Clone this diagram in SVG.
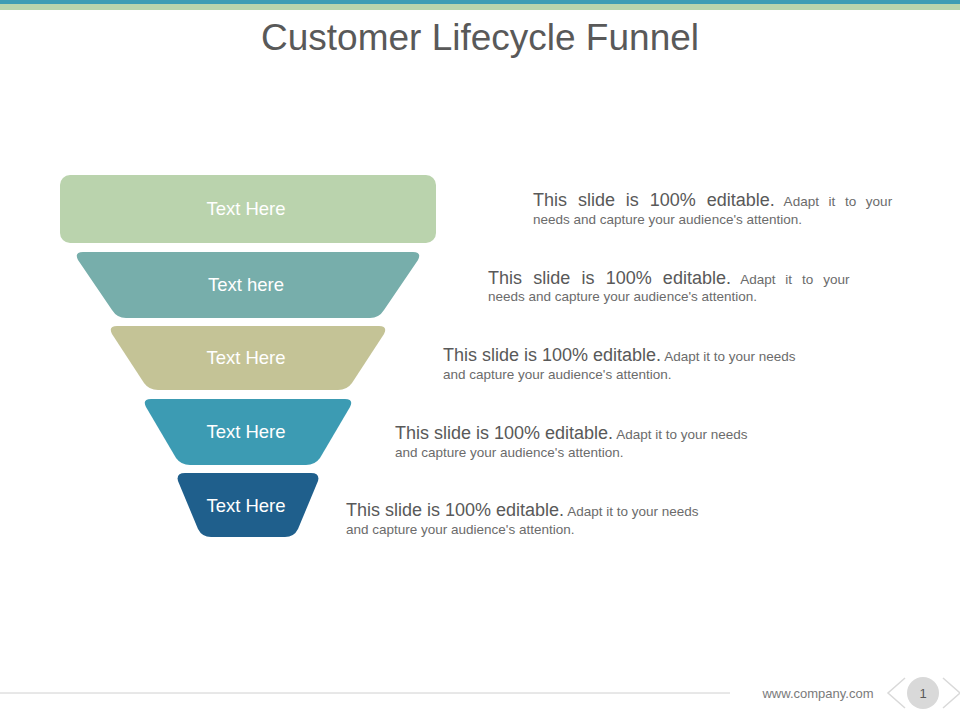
<svg xmlns="http://www.w3.org/2000/svg" width="960" height="720" viewBox="0 0 960 720">
<style>
text{font-family:"Liberation Sans",Arial,sans-serif}
.lbl{fill:#fff;font-size:18.5px;text-anchor:middle}
.big{font-size:18px;fill:#595959}
.sm{font-size:13.5px;fill:#6b6b6b}
</style>
<rect width="960" height="720" fill="#fff"/>
<rect x="0" y="0" width="960" height="4" fill="#3e9cb4"/>
<rect x="0" y="4" width="960" height="6" fill="#b9d4ad"/>
<text x="480" y="50" text-anchor="middle" font-size="37" fill="#595959">Customer Lifecycle Funnel</text>
<g id="n1"><rect x="60" y="175" width="376" height="68" rx="10" fill="#bad3ad"/><text class="lbl" x="246" y="215">Text Here</text></g>
<g id="n2"><path d="M83 252 L413 252 Q422 252 418 260 L384 310 Q379 318 370 318 L126 318 Q117 318 112 310 L78 260 Q74 252 83 252 Z" fill="#77aeab"/><text class="lbl" x="246" y="291">Text here</text></g>
<g id="n3"><path d="M117 326 L379 326 Q388 326 384 334 L352 383 Q347 390 338 390 L158 390 Q149 390 144 383 L112 334 Q108 326 117 326 Z" fill="#c4c396"/><text class="lbl" x="246" y="364">Text Here</text></g>
<g id="n4"><path d="M151 399 L345 399 Q354 399 350 407 L320 458 Q315 465 306 465 L190 465 Q181 465 176 458 L146 407 Q142 399 151 399 Z" fill="#3c9bb3"/><text class="lbl" x="246" y="438">Text Here</text></g>
<g id="n5"><path d="M185 473 L311 473 Q320 473 318 481 L298 529 Q294 537 285 537 L211 537 Q202 537 198 529 L178 481 Q176 473 185 473 Z" fill="#1f5f8c"/><text class="lbl" x="246" y="512">Text Here</text></g>
<g id="desc">
<text x="533" y="206" word-spacing="5.9"><tspan class="big">This slide is 100% editable.</tspan><tspan class="sm"> Adapt it to your</tspan></text>
<text class="sm" x="533" y="224">needs and capture your audience's attention.</text>
<text x="488" y="284" word-spacing="6.2"><tspan class="big">This slide is 100% editable.</tspan><tspan class="sm"> Adapt it to your</tspan></text>
<text class="sm" x="488" y="301">needs and capture your audience's attention.</text>
<text x="443" y="361"><tspan class="big">This slide is 100% editable.</tspan><tspan class="sm"> Adapt it to your needs</tspan></text>
<text class="sm" x="443" y="379">and capture your audience's attention.</text>
<text x="395" y="439"><tspan class="big">This slide is 100% editable.</tspan><tspan class="sm"> Adapt it to your needs</tspan></text>
<text class="sm" x="395" y="457">and capture your audience's attention.</text>
<text x="346" y="516"><tspan class="big">This slide is 100% editable.</tspan><tspan class="sm"> Adapt it to your needs</tspan></text>
<text class="sm" x="346" y="534">and capture your audience's attention.</text>
</g>
<line x1="0" y1="693" x2="730" y2="693" stroke="#d0d0d0" stroke-width="1"/>
<text x="818" y="698" text-anchor="middle" font-size="13" fill="#7a7a7a">www.company.com</text>
<path d="M905 678 L888 693 L905 708" fill="none" stroke="#d9d9d9" stroke-width="1.5"/>
<path d="M943 678 L960 693 L943 708" fill="none" stroke="#d9d9d9" stroke-width="1.5"/>
<circle cx="923" cy="693" r="16" fill="#d9d9d9"/>
<text x="923" y="698" text-anchor="middle" font-size="13" fill="#595959">1</text>
</svg>
